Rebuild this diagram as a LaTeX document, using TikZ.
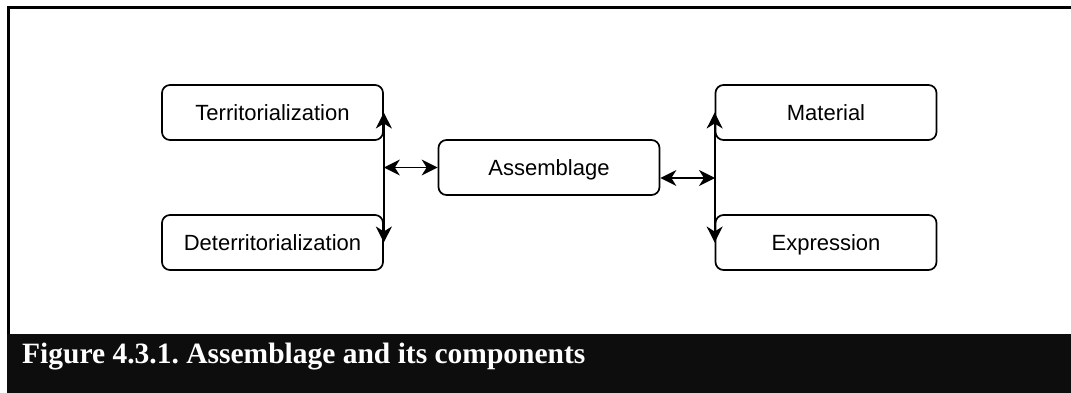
\documentclass[tikz,border=0pt]{standalone}
\usepackage{fontspec}
\setmainfont{Liberation Sans}
\newfontfamily\capfont{Liberation Serif}
\usetikzlibrary{arrows.meta}
\tikzset{
  tip/.tip={Stealth[length=16pt,width=16pt,inset=5pt]}
}
\begin{document}
\frenchspacing
\begin{tikzpicture}[x=1pt,y=-1pt,
  box/.style={draw=black, line width=1.7pt, rounded corners=8pt,
    minimum width=221pt, minimum height=55pt, inner sep=0pt,
    text height=16pt, text depth=0pt,
    font=\fontsize{22pt}{26pt}\selectfont},
  link/.style={line width=1.7pt, arrows={tip-tip}}
]
\useasboundingbox (0,0) rectangle (1071,393);
% frame of the figure
\fill[white] (0,0) rectangle (1071,393);
\draw[line width=3pt] (8,334) -- (8,7.5) -- (1071,7.5);
% caption bar
\fill[black!95] (7,334) rectangle (1071,393);
\node[anchor=base west, inner sep=0pt, text=white,
  font=\capfont\bfseries\fontsize{29.5pt}{33pt}\selectfont] (cap) at (22,363)
  {Figure 4.3.1. Assemblage and its components};

% boxes
\node[box] (terr) at (272.5,112.5) {Territorialization};
\node[box] (deter) at (272.5,242.5) {Deterritorialization};
\node[box] (assem) at (549,167.5) {Assemblage};
\node[box] (mat) at (826,112.5) {Material};
\node[box] (expr) at (826,242.5) {Expression};

% connectors
\coordinate (lj) at (terr.east |- assem.west);
\coordinate (rj) at (715,178);
\draw[link] (terr.east) -- (deter.east);
\draw[link] (lj) -- (assem.west);
\draw[link] (mat.west) -- (expr.west);
\draw[link] (assem.east |- rj) -- (rj);
\end{tikzpicture}
\end{document}
